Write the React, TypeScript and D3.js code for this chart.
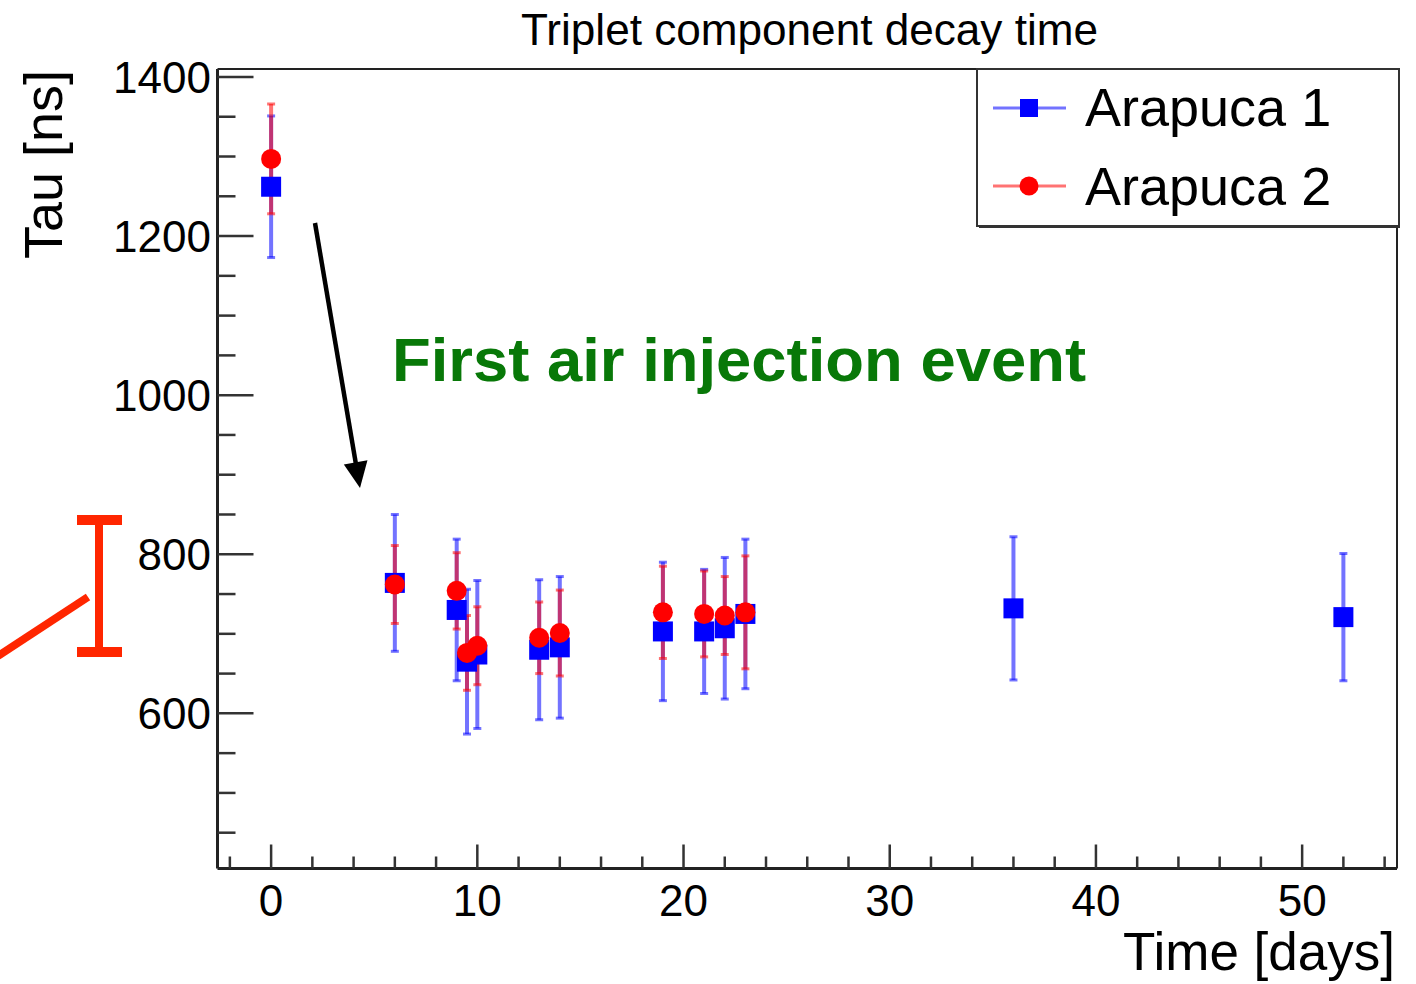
import React from "react";
import * as d3 from "d3";

const days1 = [0, 6, 9, 9.5, 10, 13, 14, 19, 21, 22, 23, 36, 52];
const tau1 = [1262, 764, 730, 665, 674, 680, 683, 703, 703, 707, 725, 732, 721];
const err1 = [89, 86, 89, 91, 93, 88, 89, 87, 78, 89, 94, 90, 80];

const days2 = [0, 6, 9, 9.5, 10, 13, 14, 19, 21, 22, 23];
const tau2 = [1297, 762, 754, 676, 685, 695, 701, 727, 725, 723, 727];
const err2 = [69, 49, 48, 47, 49, 45, 54, 58, 54, 49, 71];

const xMajorTicks = [0, 10, 20, 30, 40, 50];
const yMajorTicks = [600, 800, 1000, 1200, 1400];

const seriesNames = ["Arapuca 1", "Arapuca 2"];
const title = "Triplet component decay time";
const xTitle = "Time [days]";
const yTitle = "Tau [ns]";
const annotation = "First air injection event";

const FONT = "'Liberation Sans', Arial, Helvetica, sans-serif";

export default function App() {
  const left = 217.5, right = 1397, top = 69, bottom = 868.5;
  const x = d3.scaleLinear().domain([-2.6, 54.6]).range([left, right]);
  const y = d3.scaleLinear().domain([405, 1410]).range([bottom, top]);

  const xMinor = d3.range(-2, 55, 2).filter((d) => d % 10 !== 0);
  const yMinor = d3.range(450, 1401, 50).filter((d) => d % 200 !== 0);

  const s1 = days1.map((d, i) => ({ d, v: tau1[i], e: err1[i] }));
  const s2 = days2.map((d, i) => ({ d, v: tau2[i], e: err2[i] }));

  const blueBar = "rgba(0,0,255,0.55)";
  const redBar = "rgba(255,0,0,0.55)";

  const errBars = (pts, color, key) =>
    pts.map((p, i) => {
      const cx = x(p.d);
      const y1 = y(p.v + p.e);
      const y2 = y(p.v - p.e);
      return (
        <g key={key + i}>
          <line x1={cx} x2={cx} y1={y1} y2={y2} stroke={color} strokeWidth={4} />
          <line x1={cx - 4} x2={cx + 4} y1={y1} y2={y1} stroke={color} strokeWidth={3} />
          <line x1={cx - 4} x2={cx + 4} y1={y2} y2={y2} stroke={color} strokeWidth={3} />
        </g>
      );
    });

  // arrow geometry
  const ax1 = 315, ay1 = 223, ax2 = 360, ay2 = 488;
  const len = Math.hypot(ax2 - ax1, ay2 - ay1);
  const ux = (ax2 - ax1) / len, uy = (ay2 - ay1) / len;
  const headL = 26, headW = 12;
  const bx = ax2 - ux * headL, by = ay2 - uy * headL;
  const head = `${ax2},${ay2} ${bx - uy * headW},${by + ux * headW} ${bx + uy * headW},${by - ux * headW}`;

  const annoRed = "#ff2600";

  return (
    <svg
      width={1416}
      height={984}
      style={{ position: "absolute", left: 0, top: 0, background: "#fff" }}
      fontFamily={FONT}
    >
      <rect x={0} y={0} width={1416} height={984} fill="#fff" />

      {/* title */}
      <text x={521} y={45} fontSize={44} textLength={577} lengthAdjust="spacingAndGlyphs" fill="#000">
        {title}
      </text>

      {/* frame */}
      <line x1={left} x2={right} y1={top} y2={top} stroke="#222" strokeWidth={2} />
      <line x1={right} x2={right} y1={top} y2={bottom} stroke="#222" strokeWidth={2} />
      <line x1={left} x2={left} y1={top} y2={bottom} stroke="#222" strokeWidth={3} />
      <line x1={left} x2={right} y1={bottom} y2={bottom} stroke="#222" strokeWidth={3} />

      {/* x ticks */}
      {xMajorTicks.map((t) => (
        <g key={"xt" + t}>
          <line x1={x(t)} x2={x(t)} y1={bottom} y2={bottom - 24} stroke="#333" strokeWidth={2.5} />
          <text x={x(t)} y={916} fontSize={44} textAnchor="middle" fill="#000">
            {t}
          </text>
        </g>
      ))}
      {xMinor.map((t) => (
        <line key={"xm" + t} x1={x(t)} x2={x(t)} y1={bottom} y2={bottom - 12} stroke="#333" strokeWidth={2.5} />
      ))}

      {/* y ticks */}
      {yMajorTicks.map((t) => (
        <g key={"yt" + t}>
          <line x1={left} x2={left + 36} y1={y(t)} y2={y(t)} stroke="#333" strokeWidth={2.5} />
          <text x={211} y={y(t)} dy="0.36em" fontSize={44} textAnchor="end" fill="#000">
            {t}
          </text>
        </g>
      ))}
      {yMinor.map((t) => (
        <line key={"ym" + t} x1={left} x2={left + 18} y1={y(t)} y2={y(t)} stroke="#333" strokeWidth={2.5} />
      ))}

      {/* axis titles */}
      <text x={1395} y={970} fontSize={53} textAnchor="end" fill="#000">
        {xTitle}
      </text>
      <text transform="translate(62,70) rotate(-90)" fontSize={54} textAnchor="end" fill="#000">
        {yTitle}
      </text>

      {/* error bars */}
      {errBars(s1, blueBar, "b")}
      {errBars(s2, redBar, "r")}

      {/* markers */}
      {s1.map((p, i) => (
        <rect key={"bm" + i} x={x(p.d) - 10} y={y(p.v) - 10} width={20} height={20} fill="#0000ff" />
      ))}
      {s2.map((p, i) => (
        <circle key={"rm" + i} cx={x(p.d)} cy={y(p.v)} r={10} fill="#ff0000" />
      ))}

      {/* legend */}
      <rect x={977} y={69} width={422} height={157} fill="#fff" stroke="#333" strokeWidth={2} />
      <line x1={979} x2={1400} y1={226.5} y2={226.5} stroke="#333" strokeWidth={3} />
      <line x1={993} x2={1066} y1={108} y2={108} stroke={blueBar} strokeWidth={3} />
      <rect x={1029 - 9} y={108 - 9} width={18} height={18} fill="#0000ff" />
      <text x={1085} y={126} fontSize={54} fill="#000">
        {seriesNames[0]}
      </text>
      <line x1={993} x2={1066} y1={186} y2={186} stroke={redBar} strokeWidth={3} />
      <circle cx={1029} cy={186} r={9.5} fill="#ff0000" />
      <text x={1085} y={205} fontSize={54} fill="#000">
        {seriesNames[1]}
      </text>

      {/* annotation text */}
      <text
        x={392}
        y={381}
        fontSize={62}
        fontWeight="bold"
        fill="#087808"
        textLength={694}
        lengthAdjust="spacingAndGlyphs"
      >
        {annotation}
      </text>

      {/* arrow */}
      <line x1={ax1} y1={ay1} x2={bx + ux * 2} y2={by + uy * 2} stroke="#000" strokeWidth={4.5} />
      <polygon points={head} fill="#000" />

      {/* red annotation bracket */}
      <line x1={99} x2={99} y1={515} y2={657} stroke={annoRed} strokeWidth={8} />
      <line x1={77} x2={122} y1={520} y2={520} stroke={annoRed} strokeWidth={10} />
      <line x1={77} x2={122} y1={652} y2={652} stroke={annoRed} strokeWidth={10} />
      <line x1={-2} x2={88} y1={656} y2={597} stroke={annoRed} strokeWidth={8} />
    </svg>
  );
}
